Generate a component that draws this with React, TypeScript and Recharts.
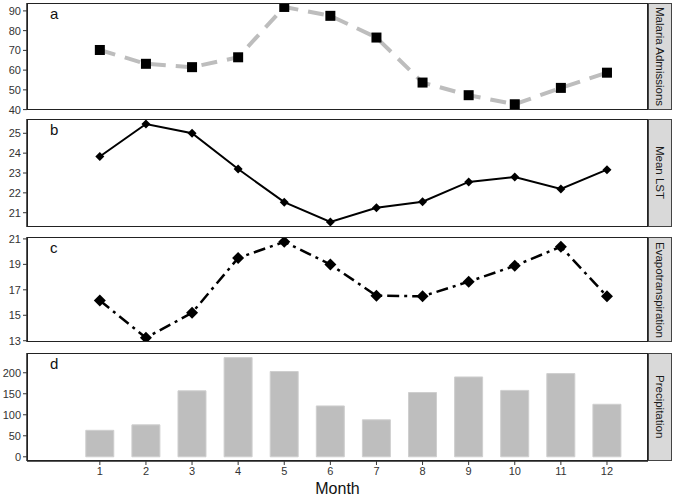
import React from 'react';
import { ComposedChart, Line, Bar, XAxis, YAxis } from 'recharts';

const months = [1, 2, 3, 4, 5, 6, 7, 8, 9, 10, 11, 12];
const malaria = [70.2, 63.2, 61.5, 66.5, 92, 87.5, 76.5, 53.7, 47.3, 42.7, 51, 58.7];
const lst = [23.83, 25.47, 25.0, 23.2, 21.53, 20.53, 21.25, 21.55, 22.55, 22.8, 22.2, 23.17];
const evapo = [16.16, 13.23, 15.19, 19.5, 20.77, 18.99, 16.54, 16.49, 17.64, 18.89, 20.39, 16.49];
const precip = [63, 76, 157, 236, 203, 121, 88, 153, 190, 158, 198, 125];

const data = months.map((m, i) => ({
  month: m,
  malaria: malaria[i],
  lst: lst[i],
  evapo: evapo[i],
  precip: precip[i],
}));

const W = 675;
const BOX_L = 27;
const BOX_R = 648;
const PAD = 10;
const X_DOMAIN = [-0.58, 12.89];
const FONT = '"Liberation Sans", Arial, sans-serif';
const tickStyle = { fontSize: 11, fill: '#333', fontFamily: FONT };

// custom markers
// eslint-disable-next-line @typescript-eslint/no-explicit-any
const squareDot = (p: any) => (
  <rect key={'s' + p.index} x={p.cx - 5} y={p.cy - 5} width={10} height={10} fill="#000" />
);
const diamond = (r: number) => {
  // eslint-disable-next-line @typescript-eslint/no-explicit-any
  return (p: any) => (
    <polygon
      key={'d' + r + p.index}
      points={`${p.cx},${p.cy - r} ${p.cx + r},${p.cy} ${p.cx},${p.cy + r} ${p.cx - r},${p.cy}`}
      fill="#000"
    />
  );
};

type Panel = {
  letter: string;
  strip: string;
  top: number;
  bottom: number;
  domain: number[];
  ticks: number[];
};

const panels: Panel[] = [
  { letter: 'a', strip: 'Malaria Admissions', top: 3, bottom: 110, domain: [39.8, 94], ticks: [40, 50, 60, 70, 80, 90] },
  { letter: 'b', strip: 'Mean LST', top: 119, bottom: 227, domain: [20.28, 25.72], ticks: [21, 22, 23, 24, 25] },
  { letter: 'c', strip: 'Evapotranspiration', top: 237, bottom: 342, domain: [12.9, 21.15], ticks: [13, 15, 17, 19, 21] },
  { letter: 'd', strip: 'Precipitation', top: 353, bottom: 461, domain: [-10, 247], ticks: [0, 50, 100, 150, 200] },
];

const AXIS_H = 37;

function PanelChart({ p, idx }: { p: Panel; idx: number }) {
  const isLast = idx === 3;
  const boxH = p.bottom - p.top;
  const h = PAD + boxH + (isLast ? AXIS_H : PAD);
  return (
    <div style={{ position: 'absolute', left: 0, top: p.top - PAD, width: W, height: h }}>
      <ComposedChart
        width={W}
        height={h}
        data={data}
        margin={{ top: PAD, right: W - BOX_R, bottom: isLast ? 0 : PAD, left: 0 }}
      >
        <XAxis
          dataKey="month"
          type="number"
          domain={X_DOMAIN}
          ticks={months}
          allowDataOverflow
          hide={!isLast}
          height={isLast ? AXIS_H : 0}
          tick={tickStyle}
          tickSize={4}
          tickMargin={2}
          tickLine={{ stroke: '#333' }}
          axisLine={{ stroke: '#222', strokeWidth: 1.5 }}
          label={
            isLast
              ? { value: 'Month', position: 'insideBottom', offset: 4, fontSize: 16, fill: '#111', fontFamily: FONT }
              : undefined
          }
        />
        <YAxis
          type="number"
          width={BOX_L}
          domain={p.domain}
          ticks={p.ticks}
          allowDataOverflow
          interval={0}
          tick={tickStyle}
          tickSize={4}
          tickMargin={2}
          tickLine={{ stroke: '#333' }}
          axisLine={{ stroke: '#222', strokeWidth: 1.5 }}
        />
        {idx === 0 && (
          <Line dataKey="malaria" stroke="none" dot={squareDot} isAnimationActive={false} />
        )}
        {idx === 0 && (
          <Line
            dataKey="malaria"
            stroke="#bdbdbd"
            strokeWidth={4}
            strokeDasharray="16 10"
            dot={false}
            isAnimationActive={false}
          />
        )}
        {idx === 1 && (
          <Line dataKey="lst" stroke="#000" strokeWidth={2} dot={diamond(4.5)} isAnimationActive={false} />
        )}
        {idx === 2 && (
          <Line
            dataKey="evapo"
            stroke="#000"
            strokeWidth={2.5}
            strokeDasharray="12 5 3 5"
            dot={diamond(6)}
            isAnimationActive={false}
          />
        )}
        {idx === 3 && (
          <Bar dataKey="precip" fill="#bebebe" stroke="#cfcfcf" strokeWidth={1} barSize={28} isAnimationActive={false} />
        )}
      </ComposedChart>
    </div>
  );
}

export default function App() {
  return (
    <div style={{ position: 'absolute', left: 0, top: 0, width: W, height: 499, background: '#fff', fontFamily: FONT }}>
      {panels.map((p, i) => (
        <PanelChart key={p.letter} p={p} idx={i} />
      ))}
      {panels.map((p) => (
        <React.Fragment key={'o' + p.letter}>
          <div
            style={{
              position: 'absolute',
              left: BOX_L,
              top: p.top,
              width: BOX_R - BOX_L,
              height: p.bottom - p.top,
              border: '1.5px solid #222',
              boxSizing: 'border-box',
              pointerEvents: 'none',
            }}
          />
          <div
            style={{
              position: 'absolute',
              left: 50,
              top: p.top + 2,
              fontSize: 15,
              color: '#111',
              lineHeight: '18px',
            }}
          >
            {p.letter}
          </div>
          <div
            style={{
              position: 'absolute',
              left: BOX_R,
              top: p.top,
              width: 24,
              height: p.bottom - p.top,
              background: '#d9d9d9',
              border: '1px solid #444',
              boxSizing: 'border-box',
              display: 'flex',
              alignItems: 'center',
              justifyContent: 'center',
            }}
          >
            <span style={{ writingMode: 'vertical-rl', fontSize: 11.5, color: '#1a1a1a', whiteSpace: 'nowrap' }}>
              {p.strip}
            </span>
          </div>
        </React.Fragment>
      ))}
    </div>
  );
}
